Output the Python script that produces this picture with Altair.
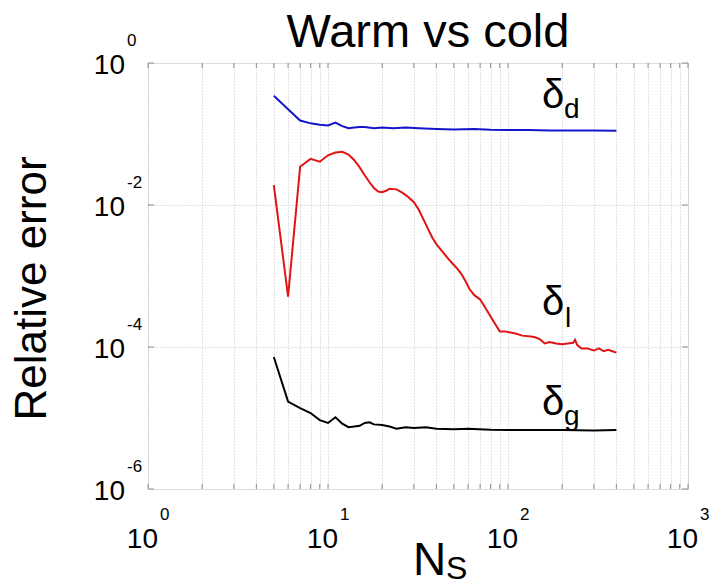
import altair as alt
import pandas as pd

# ---------------- data ----------------
n_d = [5, 6, 7, 8, 9, 10, 11, 12, 13, 14, 15, 16, 18, 20, 23, 27, 32, 40, 50, 65, 80, 100, 130, 170, 220, 300, 400]
log_d = [-0.46, -0.65, -0.81, -0.85, -0.87, -0.88, -0.84, -0.89, -0.92, -0.91, -0.90, -0.90, -0.92, -0.91,
         -0.92, -0.91, -0.92, -0.93, -0.935, -0.93, -0.94, -0.945, -0.945, -0.95, -0.95, -0.952, -0.953]

n_l = [5, 6, 7, 8, 9, 10, 11, 12, 13, 14, 15, 16, 17, 18, 19, 20, 21, 22, 24, 26, 28, 30, 32, 34, 36, 38, 40,
       43, 46, 49, 52, 55, 58, 61, 65, 70, 75, 80, 85, 90, 95, 100, 110, 120, 130, 140, 150, 160, 170, 185,
       200, 215, 230, 236, 242, 256, 275, 300, 320, 340, 360, 380, 400]
log_l = [-1.72, -3.29, -1.46, -1.35, -1.39, -1.30, -1.26, -1.25, -1.29, -1.37, -1.47, -1.58, -1.68, -1.76,
         -1.81, -1.82, -1.80, -1.77, -1.78, -1.83, -1.89, -1.96, -2.07, -2.21, -2.34, -2.46, -2.55,
         -2.65, -2.74, -2.82, -2.89, -2.97, -3.07, -3.18, -3.27, -3.33, -3.45, -3.57, -3.68, -3.78, -3.78,
         -3.79, -3.81, -3.84, -3.85, -3.86, -3.89, -3.95, -3.93, -3.95, -3.96, -3.95, -3.94, -3.90, -3.97,
         -4.02, -4.02, -4.05, -4.02, -4.06, -4.04, -4.06, -4.08]

n_g = [5, 6, 7, 8, 9, 10, 11, 12, 13, 14, 15, 16, 17, 18, 20, 22, 24, 27, 30, 35, 40, 50, 60, 80, 100,
       150, 200, 300, 400]
log_g = [-4.14, -4.77, -4.86, -4.93, -5.03, -5.07, -4.99, -5.08, -5.13, -5.12, -5.11, -5.07, -5.06, -5.09,
         -5.10, -5.12, -5.15, -5.13, -5.14, -5.13, -5.15, -5.16, -5.15, -5.165, -5.17, -5.17, -5.17,
         -5.175, -5.17]

series_names = ["d", "l", "g"]
series_colors = ["#1414c8", "#e01414", "#000000"]

x_major = [1, 10, 100, 1000]
x_major_exp = ["0", "1", "2", "3"]
x_grid = [m * 10 ** k for k in range(3) for m in range(1, 10)] + [1000]
y_major = [1, 1e-2, 1e-4, 1e-6]
y_major_exp = ["0", "-2", "-4", "-6"]
y_grid = [1e-2, 1e-4]

# ---------------- build tables ----------------
rows = []
for name, ns, ls in zip(series_names, [n_d, n_l, n_g], [log_d, log_l, log_g]):
    for n, l in zip(ns, ls):
        rows.append({"series": name, "N": n, "err": 10 ** l})
df = pd.DataFrame(rows)

W, H = 540, 426
FONT = "Liberation Sans"

xscale = alt.Scale(type="log", domain=[1, 1000], nice=False)
yscale = alt.Scale(type="log", domain=[1e-6, 1], nice=False)
xaxis = alt.Axis(values=x_grid, grid=True, gridColor="#c4c4c4", gridDash=[1, 2], gridWidth=1,
                 labels=False, ticks=False, domain=False, title=None)
yaxis = alt.Axis(values=y_grid, grid=True, gridColor="#c4c4c4", gridDash=[1, 2], gridWidth=1,
                 labels=False, ticks=False, domain=False, title="Relative error",
                 titleFont=FONT, titleFontSize=44, titleFontWeight="normal", titleColor="black",
                 titleX=-103, titleY=225, titleAngle=270, titleAlign="center",
                 titleBaseline="alphabetic")

X = alt.X("N:Q", scale=xscale, axis=xaxis)
Y = alt.Y("err:Q", scale=yscale, axis=yaxis)

lines = alt.Chart(df).mark_line(strokeWidth=2).encode(
    x=X, y=Y,
    color=alt.Color("series:N", scale=alt.Scale(domain=series_names, range=series_colors), legend=None),
    detail="series:N",
)

# inward tick marks on the box
xt = pd.DataFrame({"N": x_grid})
yt = pd.DataFrame({"err": y_major})
tick_style = dict(color="#8c8c8c", strokeWidth=1)
bt = alt.Chart(xt).mark_rule(**tick_style).encode(x=X, y=alt.value(H), y2=alt.value(H - 5))
tt = alt.Chart(xt).mark_rule(**tick_style).encode(x=X, y=alt.value(0), y2=alt.value(5))
lt = alt.Chart(yt).mark_rule(**tick_style).encode(y=Y, x=alt.value(0), x2=alt.value(6))
rt = alt.Chart(yt).mark_rule(**tick_style).encode(y=Y, x=alt.value(W), x2=alt.value(W - 6))

# tick labels: "10" with superscript exponent
xl = pd.DataFrame({"N": x_major, "e": x_major_exp})
yl = pd.DataFrame({"err": y_major, "e": y_major_exp})
x10 = alt.Chart(xl).mark_text(text="10", font=FONT, fontSize=28, align="right", baseline="alphabetic",
                              dx=10, color="black").encode(x=X, y=alt.value(H + 59))
xex = alt.Chart(xl).mark_text(font=FONT, fontSize=17, align="left", baseline="alphabetic",
                              dx=12, color="black").encode(x=X, y=alt.value(H + 31), text="e:N")
y10 = alt.Chart(yl).mark_text(text="10", font=FONT, fontSize=28, align="right", baseline="alphabetic",
                              dy=11, color="black").encode(y=Y, x=alt.value(-23))
yex = alt.Chart(yl).mark_text(font=FONT, fontSize=17, align="left", baseline="alphabetic",
                              dy=-17, color="black").encode(y=Y, x=alt.value(-21), text="e:N")


def label(t, x, y, size, align="left"):
    return alt.Chart(pd.DataFrame({"t": [t]})).mark_text(
        font=FONT, fontSize=size, align=align, baseline="alphabetic", color="black"
    ).encode(x=alt.value(x), y=alt.value(y), text="t:N")


annos = [
    label("Warm vs cold", 280, -16, 47, "center"),
    label("N", 265, 512, 46), label("S", 298, 516, 32),
    label("δ", 394, 45, 40), label("d", 416, 55, 28),
    label("δ", 394, 252, 40), label("l", 417, 264, 28),
    label("δ", 394, 352, 40), label("g", 416, 362, 28),
]

chart = alt.layer(lines, bt, tt, lt, rt, x10, xex, y10, yex, *annos).properties(
    width=W, height=H,
    autosize=alt.AutoSizeParams(type="none"),
    padding={"left": 148, "top": 63, "right": 21, "bottom": 91},
).configure_view(stroke="#8c8c8c", strokeWidth=1).configure(background="white")

chart.save("out.html", embed_options={"renderer": "svg", "actions": False})
